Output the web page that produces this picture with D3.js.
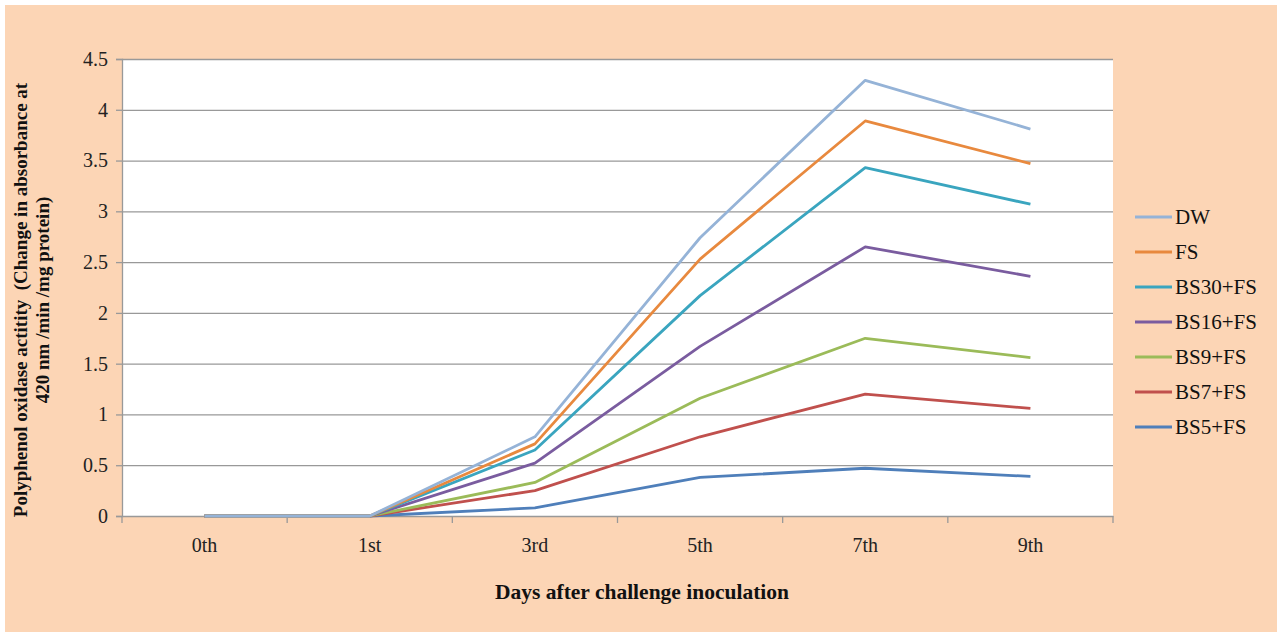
<!DOCTYPE html>
<html><head><meta charset="utf-8">
<script src="https://cdn.jsdelivr.net/npm/d3@7/dist/d3.min.js"></script>
<style>body{margin:0;background:#fff}svg{display:block}</style>
</head><body>
<svg id="c" width="1279" height="632"></svg>
<script>
const categories = ["0th","1st","3rd","5th","7th","9th"];
const seriesNames = ["DW","FS","BS30+FS","BS16+FS","BS9+FS","BS7+FS","BS5+FS"];
const seriesColors = ["#95B3D7","#E8893E","#3AA5BF","#7A5C9F","#9BBB59","#C0504D","#4F7FBA"];
const DW      = [0,0,0.78,2.74,4.29,3.81];
const FS      = [0,0,0.71,2.53,3.89,3.47];
const BS30FS  = [0,0,0.65,2.17,3.43,3.07];
const BS16FS  = [0,0,0.52,1.67,2.65,2.36];
const BS9FS   = [0,0,0.33,1.16,1.75,1.56];
const BS7FS   = [0,0,0.25,0.78,1.20,1.06];
const BS5FS   = [0,0,0.08,0.38,0.47,0.39];
const yTicks  = [0,0.5,1,1.5,2,2.5,3,3.5,4,4.5];
const seriesValues = [DW,FS,BS30FS,BS16FS,BS9FS,BS7FS,BS5FS];

const FONT = "Liberation Serif, Times New Roman, serif";
const svg = d3.select("#c");
svg.append("rect").attr("x",5).attr("y",5).attr("width",1272).attr("height",627).attr("fill","#FCD5B5");

const L=122,R=1113,T=59,B=516;
const x = d3.scaleBand().domain(categories).range([L,R]);
const y = d3.scaleLinear().domain([0,4.5]).range([B,T]);

svg.append("rect").attr("x",L).attr("y",T).attr("width",R-L).attr("height",B-T).attr("fill","#fff");

svg.append("g").selectAll("line").data(yTicks.filter(d=>d>0)).join("line")
  .attr("x1",L).attr("x2",R).attr("y1",d=>y(d)+0.5).attr("y2",d=>y(d)+0.5)
  .attr("stroke","#999").attr("stroke-width",1.3);

const ya = svg.append("g").attr("transform",`translate(${L},0)`)
  .call(d3.axisLeft(y).tickValues(yTicks).tickFormat(d=>String(d)).tickSize(6).tickPadding(8));
ya.select(".domain").attr("stroke","#999").attr("stroke-width",1.3);
ya.selectAll(".tick line").attr("stroke","#999").attr("stroke-width",1.3);
ya.selectAll("text").attr("font-family",FONT).attr("font-size",20).attr("fill","#222");

const xa = svg.append("g").attr("transform",`translate(0,${B})`)
  .call(d3.axisBottom(x).tickSize(0).tickPadding(22));
xa.select(".domain").attr("stroke","#999").attr("stroke-width",1.3);
xa.selectAll("text").attr("font-family",FONT).attr("font-size",20).attr("fill","#222");
const bounds = categories.map(c=>x(c)).concat([R]);
svg.append("g").selectAll("line").data(bounds).join("line")
  .attr("x1",d=>d).attr("x2",d=>d).attr("y1",B).attr("y2",B+7)
  .attr("stroke","#999").attr("stroke-width",1.3);

const line = d3.line().x((d,i)=>x(categories[i])+x.bandwidth()/2).y(d=>y(d));
const order = [6,5,4,3,2,1,0];
svg.append("g").selectAll("path").data(order).join("path")
  .attr("d",i=>line(seriesValues[i])).attr("fill","none")
  .attr("stroke",i=>seriesColors[i]).attr("stroke-width",2.8).attr("stroke-linejoin","round");

svg.append("text").attr("x",642).attr("y",599).attr("text-anchor","middle")
  .attr("font-family",FONT).attr("font-weight","bold").attr("font-size",21.5).attr("fill","#111")
  .text("Days after challenge inoculation");
const yt = svg.append("text").attr("transform","translate(0,300) rotate(-90)").attr("text-anchor","middle")
  .attr("font-family",FONT).attr("font-weight","bold").attr("font-size",19).attr("fill","#111")
  .style("white-space","pre");
yt.append("tspan").attr("x",0).attr("y",27).text("Polyphenol oxidase actitity  (Change in absorbance at");
yt.append("tspan").attr("x",0).attr("y",49).text("420 nm /min /mg protein)");

const lg = svg.append("g").selectAll("g").data(seriesNames).join("g")
  .attr("transform",(d,i)=>`translate(1135,${217+i*35})`);
lg.append("line").attr("x1",0).attr("x2",37).attr("stroke",(d,i)=>seriesColors[i]).attr("stroke-width",2.8);
lg.append("text").attr("x",40).attr("y",7).text(d=>d)
  .attr("font-family",FONT).attr("font-size",21).attr("fill","#111");
</script>
</body></html>
